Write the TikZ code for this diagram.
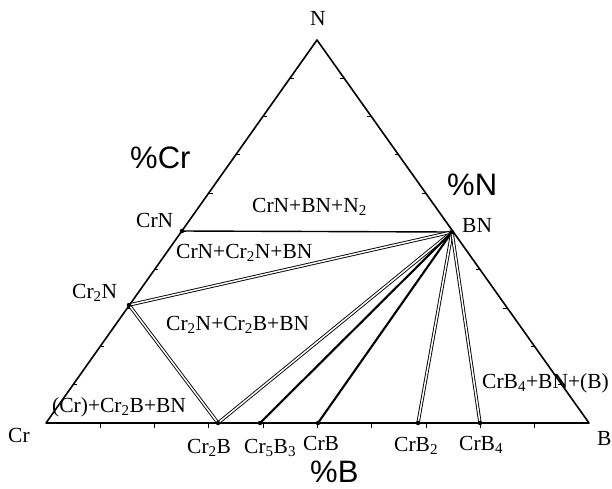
\documentclass[tikz,border=0pt]{standalone}
\usepackage{fontspec}
\setmainfont{Liberation Serif}
\newfontfamily\pctfont{Liberation Sans}
\usetikzlibrary{calc}
\tikzset{
  edge/.style={draw=black, line width=1.6pt, line join=round},
  tie/.style={draw=black, line width=2.1pt},
  thin tie/.style={draw=black, line width=1.4pt},
  dtie/.style={draw=black, double=white, double distance=1.5pt, line width=0.9pt},
  tickmark/.style={draw=black, line width=1.1pt},
  lbl/.style={anchor=base west, inner sep=0pt, font=\fontsize{21.5}{24}\selectfont},
  pct/.style={anchor=base west, inner sep=0pt, font=\pctfont\fontsize{31}{36}\selectfont},
  dot/.style={circle, fill=black, inner sep=0pt, minimum size=4.5pt}
}

\begin{document}
\begin{tikzpicture}[x=1pt,y=-1pt]
  \useasboundingbox (0,0) rectangle (612,488);
  % corners
  \coordinate (Cr) at (46,423);
  \coordinate (B) at (589,423);
  \coordinate (N) at (317,40);
  % phases
  \coordinate (CrN) at (182,231);
  \coordinate (Cr2N) at (129,305);
  \coordinate (BN) at (452,232);
  \coordinate (Cr2B) at (218,423);
  \coordinate (Cr5B3) at (260,423);
  \coordinate (CrB) at (318,423);
  \coordinate (CrB2) at (418,423);
  \coordinate (CrB4) at (480,423);

  \draw[edge] (Cr) -- (B) -- (N) -- cycle;
  % scale ticks
  \foreach \k in {1,...,9} {
    \draw[tickmark] ($(Cr)!\k/10!(B)$) -- ++(0,5);
    \draw[tickmark] ($(Cr)!\k/10!(N)$) -- ++(4,0);
    \draw[tickmark] ($(B)!\k/10!(N)$) -- ++(-4,0);
  }

  % tie lines
  \draw[thin tie] (CrN) -- (BN);
  \draw[dtie] (Cr2N) -- (BN);
  \draw[dtie] (Cr2N) -- (Cr2B);
  \draw[dtie] (BN) -- (Cr2B);
  \draw[tie] (BN) -- (Cr5B3);
  \draw[tie] (BN) -- (CrB);
  \draw[dtie] (BN) -- (CrB2);
  \draw[dtie] (BN) -- (CrB4);
  \foreach \p in {CrN,Cr2N,BN,Cr2B,Cr5B3,CrB,CrB2,CrB4}
    \node[dot] at (\p) {};

  % labels
  \node[lbl] (lN) at (310,25) {N};
  \node[lbl] (lCr) at (8,442) {Cr};
  \node[lbl] (lB) at (597,445) {B};
  \node[lbl] (lCrN) at (136,227) {CrN};
  \node[lbl] (lBN) at (462,232) {BN};
  \node[lbl] (lCr2N) at (72,298) {Cr\textsubscript{2}N};
  \node[lbl] (lCr2B) at (187,453) {Cr\textsubscript{2}B};
  \node[lbl] (lCr5B3) at (244,453) {Cr\textsubscript{5}B\textsubscript{3}};
  \node[lbl] (lCrB) at (303,450) {CrB};
  \node[lbl] (lCrB2) at (394,451) {CrB\textsubscript{2}};
  \node[lbl] (lCrB4) at (459,450) {CrB\textsubscript{4}};
  \node[lbl] (f1) at (252,212) {CrN+BN+N\textsubscript{2}};
  \node[lbl] (f2) at (176,258) {CrN+Cr\textsubscript{2}N+BN};
  \node[lbl] (f3) at (166,330) {Cr\textsubscript{2}N+Cr\textsubscript{2}B+BN};
  \node[lbl] (f4) at (52,412) {(Cr)+Cr\textsubscript{2}B+BN};
  \node[lbl] (f5) at (482,388) {CrB\textsubscript{4}+BN+(B)};
  \node[pct] (pCr) at (130,168) {\%Cr};
  \node[pct] (pN) at (447,195) {\%N};
  \node[pct] (pB) at (310,482) {\%B};
\end{tikzpicture}
\end{document}
